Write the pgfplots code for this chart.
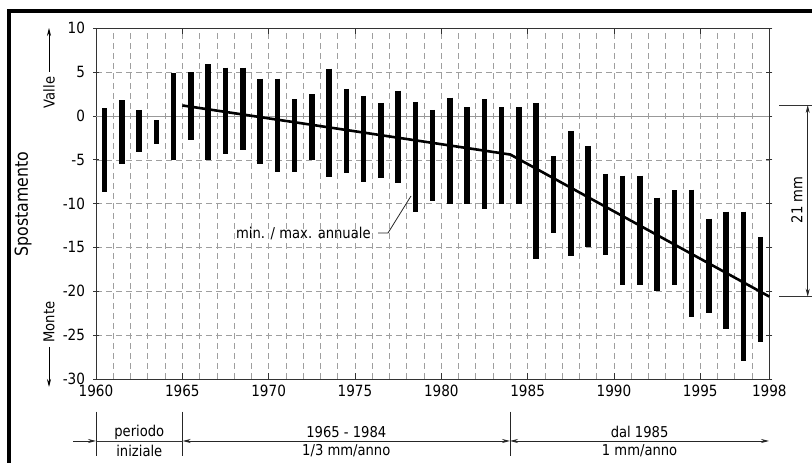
\documentclass[border=0pt]{standalone}
\usepackage{fontspec}
\setmainfont{DejaVu Sans}[FakeStretch=0.88]
\usepackage{pgfplots}
\pgfplotsset{compat=1.18}
\usepackage{pgfplotstable}
\usetikzlibrary{arrows.meta}

% annual min / max displacement, one bar per year (centred in the year)
\pgfplotstableread{
x      lo     hi
1960.5 -8.7   0.9
1961.5 -5.5   1.8
1962.5 -4.1   0.7
1963.5 -3.2  -0.5
1964.5 -5.0   4.9
1965.5 -2.7   5.0
1966.5 -5.0   5.9
1967.5 -4.3   5.5
1968.5 -3.9   5.5
1969.5 -5.5   4.25
1970.5 -6.4   4.25
1971.5 -6.4   1.9
1972.5 -5.0   2.5
1973.5 -7.0   5.4
1974.5 -6.5   3.1
1975.5 -7.5   2.3
1976.5 -7.1   1.5
1977.5 -7.7   2.9
1978.5 -11.0  1.6
1979.5 -9.7   0.7
1980.5 -10.0  2.1
1981.5 -10.0  1.0
1982.5 -10.6  1.9
1983.5 -10.0  1.0
1984.5 -10.0  1.0
1985.5 -16.3  1.5
1986.5 -13.3 -4.6
1987.5 -16.0 -1.7
1988.5 -14.9 -3.4
1989.5 -15.9 -6.6
1990.5 -19.3 -6.8
1991.5 -19.3 -6.8
1992.5 -20.0 -9.3
1993.5 -19.3 -8.5
1994.5 -22.9 -8.4
1995.5 -22.5 -11.7
1996.5 -24.3 -10.9
1997.5 -27.9 -10.9
1998.5 -25.8 -13.8
}\bars

\newcommand\lbl{\fontsize{15}{17}\selectfont}

\begin{document}
\begin{tikzpicture}[x=1bp,y=1bp]
\useasboundingbox (0,0) rectangle (812,463);
\begin{axis}[
    at={(96bp,84bp)}, anchor=south west,
    scale only axis, width=673.3bp, height=350.7bp,
    xmin=1960, xmax=1999, ymin=-30, ymax=10,
    xtick={1960,1965,...,1995,1999},
    xticklabels={1960,1965,1970,1975,1980,1985,1990,1995,1998},
    minor xtick={1961,...,1998},
    ytick={-30,-25,...,10},
    xmajorgrids, xminorgrids, ymajorgrids,
    major grid style={gray!75, line width=0.6bp, dash pattern=on 6bp off 4bp},
    minor grid style={gray!75, line width=0.6bp, dash pattern=on 6bp off 4bp},
    axis line style={black!80, line width=0.8bp},
    tick style={black!80, line width=0.8bp},
    major tick length=6bp, minor tick length=0pt,
    xtick align=inside, ytick align=center,
    /pgf/number format/assume math mode=true,
    tick label style={font=\fontsize{15.5}{17}\selectfont},
    yticklabel style={xshift=-4.5bp},
    xticklabel style={yshift=-2.5bp},
    clip=false,
]
\draw[gray!80, line width=0.8bp] (axis cs:1960,0) -- (axis cs:1999,0);

\addplot[draw=none, mark=none, forget plot,
    error bars/.cd, y dir=minus, y explicit, error mark=none,
    error bar style={draw=black, line width=5.5bp}]
    table[x=x, y=hi, y error minus expr=\thisrow{hi}-\thisrow{lo}] {\bars};

% mean trend
\addplot[black, line width=2.6bp, mark=none] coordinates
    {(1965,1.2) (1984,-4.4) (1999,-20.6)};
\end{axis}

% outer frame
\draw[line width=3.5bp] (9,0) -- (9,452) -- (812,452);

% left labels
\node[rotate=90, font=\fontsize{18}{20}\selectfont] at (23,259) {Spostamento};
\node[rotate=90, font=\lbl] at (49,370.5) {Valle};
\draw[-{Stealth[length=8bp,width=4bp]}, line width=0.8bp] (49,391) -- (49,435);
\node[rotate=90, font=\lbl] at (49,141) {Monte};
\draw[-{Stealth[length=8bp,width=4bp]}, line width=0.8bp] (49,116) -- (49,76);

% annotation of bars
\node[font=\lbl] at (303.4,229) {min. / max. annuale};
\draw[black!85, line width=0.8bp] (378,230) -- (388,230) -- (411,267);

% 21 mm dimension
\draw[black!80, line width=0.8bp] (779,358) -- (812,358);
\draw[black!80, line width=0.8bp] (779,166.3) -- (812,166.3);
\draw[{Stealth[length=8bp,width=4bp]}-{Stealth[length=8bp,width=4bp]}, black!85, line width=0.8bp] (807.7,358) -- (807.7,166.3);
\node[rotate=90, font=\lbl] at (796.7,263) {21 mm};

% periods below the axis
\foreach \xx in {96,182.7,510}
  \draw[black!85, line width=0.8bp] (\xx,51.3) -- (\xx,7);
\draw[black!80, line width=0.8bp] (96,22) -- (182.7,22);
\draw[-{Stealth[length=8bp,width=4bp]}, black!85, line width=0.8bp] (73,22) -- (96,22);
\draw[{Stealth[length=8bp,width=4bp]}-{Stealth[length=8bp,width=4bp]}, black!85, line width=0.8bp] (182.7,22) -- (510,22);
\draw[{Stealth[length=8bp,width=4bp]}-{Stealth[length=8bp,width=4bp]}, black!85, line width=0.8bp] (510,22) -- (769,22);
\node[font=\lbl] at (139.3,31) {periodo};
\node[font=\lbl] at (139.3,12) {iniziale};
\node[font=\lbl] at (346.3,31) {1965 - 1984};
\node[font=\lbl] at (346.3,12) {1/3 mm/anno};
\node[font=\lbl] at (639.6,31) {dal 1985};
\node[font=\lbl] at (639.6,12) {1 mm/anno};
\end{tikzpicture}
\end{document}
